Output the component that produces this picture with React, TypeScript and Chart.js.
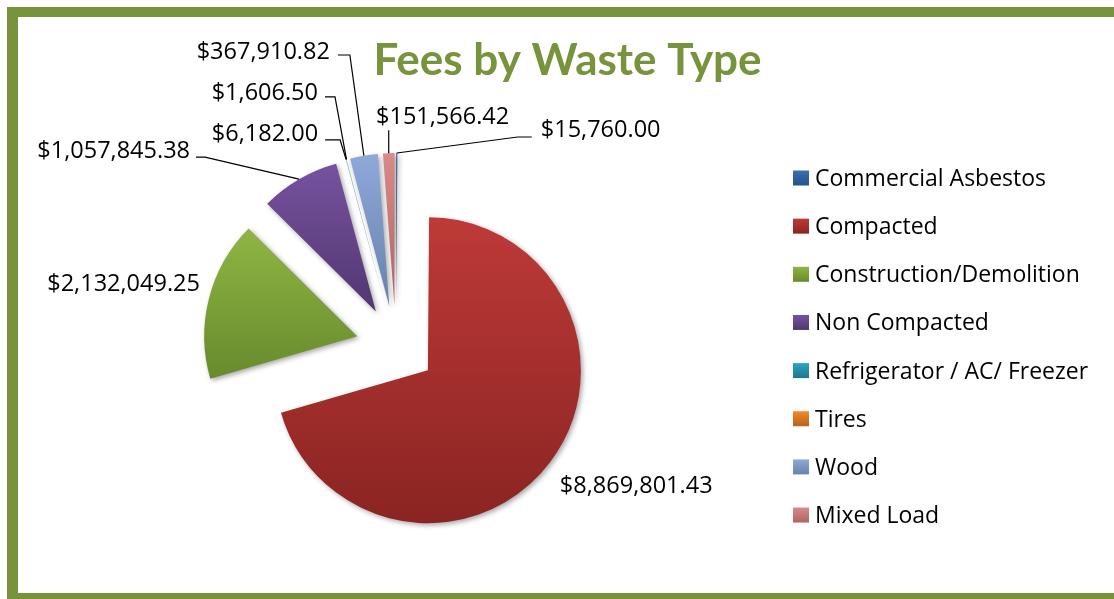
import React, { useEffect, useRef } from 'react';
import { Chart, registerables } from 'chart.js';

Chart.register(...registerables);

// ---------- data ----------
const categories = [
  'Commercial Asbestos',
  'Compacted',
  'Construction/Demolition',
  'Non Compacted',
  'Refrigerator / AC/ Freezer',
  'Tires',
  'Wood',
  'Mixed Load',
];
const fees = [15760.0, 8869801.43, 2132049.25, 1057845.38, 6182.0, 1606.5, 367910.82, 151566.42];
const titleText = 'Fees by Waste Type';

// ---------- styles ----------
const topColors = ['#3A6FB0', '#BE3A37', '#8FB643', '#77529F', '#2EA3C2', '#F08A2C', '#8EA8D8', '#D88A89'];
const bottomColors = ['#25528A', '#8A2422', '#688A2D', '#513770', '#1D7790', '#BC6117', '#6882AD', '#AE6564'];
const FRAME = '#77933C';
const LABEL_FONT = `23.5px "Open Sans", Lato, sans-serif`;
const LEGEND_FONT = `23px "Open Sans", Lato, sans-serif`;
const TITLE_FONT = `bold 44px Lato, "Open Sans", sans-serif`;
const PIE_RADIUS = 153;
const EXPLODE = 40;

// label placement relative to each slice's outer mid point
const labelLayout = [
  { dx: 144, dy: -24, align: 'left', kind: 'elbow', elbow: 23, gap: 9, ly: 8 },
  { dx: 10, dy: 22, align: 'left', kind: 'none', elbow: 0, gap: 0, ly: 0 },
  { dx: -9, dy: -15.5, align: 'right', kind: 'none', elbow: 0, gap: 0, ly: 0 },
  { dx: -109, dy: -29, align: 'right', kind: 'elbow', elbow: 15, gap: 6, ly: 7 },
  { dx: -28, dy: -26.6, align: 'right', kind: 'elbow', elbow: 22, gap: 7, ly: 7 },
  { dx: -28.5, dy: -67.6, align: 'right', kind: 'elbow', elbow: 17, gap: 7, ly: 5 },
  { dx: -34, dy: -104.7, align: 'right', kind: 'elbow', elbow: 20, gap: 8, ly: 4 },
  { dx: -12.7, dy: -37, align: 'left', kind: 'vertical', elbow: 0, gap: 0, ly: 14 },
];

const fmt = (v: number) =>
  '$' + v.toLocaleString('en-US', { minimumFractionDigits: 2, maximumFractionDigits: 2 });

function sliceGeom(arc: any) {
  const p = arc.getProps(['x', 'y', 'startAngle', 'endAngle', 'outerRadius'], true);
  const mid = (p.startAngle + p.endAngle) / 2;
  const ox = Math.cos(mid) * EXPLODE;
  const oy = Math.sin(mid) * EXPLODE;
  return { ...p, mid, ox, oy };
}

const framePlugin = {
  id: 'frame',
  beforeDraw(chart: any) {
    const { ctx, width, height } = chart;
    ctx.save();
    ctx.fillStyle = '#ffffff';
    ctx.fillRect(0, 0, width, height);
    ctx.fillStyle = FRAME;
    ctx.fillRect(7, 7, width - 7, 10);
    ctx.fillRect(7, 7, 11, height - 7);
    ctx.fillRect(7, 593, width - 7, 10);
    ctx.restore();
  },
};

const explodePlugin = {
  id: 'explode',
  beforeDatasetDraw(chart: any, args: any) {
    const ctx = chart.ctx;
    const arcs = args.meta.data;
    arcs.forEach((arc: any, i: number) => {
      const g = sliceGeom(arc);
      let minY = g.y;
      let maxY = g.y;
      const steps = 40;
      for (let s = 0; s <= steps; s++) {
        const a = g.startAngle + ((g.endAngle - g.startAngle) * s) / steps;
        const yy = g.y + Math.sin(a) * g.outerRadius;
        minY = Math.min(minY, yy);
        maxY = Math.max(maxY, yy);
      }
      const grad = ctx.createLinearGradient(0, minY, 0, maxY + 0.01);
      grad.addColorStop(0, topColors[i]);
      grad.addColorStop(1, bottomColors[i]);
      const orig = arc.options.backgroundColor;
      arc.options.backgroundColor = grad;
      ctx.save();
      ctx.translate(g.ox, g.oy);
      ctx.shadowColor = 'rgba(0,0,0,0.35)';
      ctx.shadowBlur = 5;
      ctx.shadowOffsetX = 2;
      ctx.shadowOffsetY = 2;
      arc.draw(ctx, chart.chartArea);
      ctx.restore();
      arc.options.backgroundColor = orig;
    });
    return false;
  },
};

const textPlugin = {
  id: 'texts',
  afterDraw(chart: any) {
    const ctx = chart.ctx;
    ctx.save();

    // title
    ctx.font = TITLE_FONT;
    ctx.fillStyle = FRAME;
    ctx.textAlign = 'center';
    ctx.textBaseline = 'alphabetic';
    ctx.fillText(titleText, 567.5, 75);

    // data labels + leader lines
    const arcs = chart.getDatasetMeta(0).data;
    ctx.font = LABEL_FONT;
    ctx.fillStyle = '#000000';
    ctx.strokeStyle = '#000000';
    ctx.lineWidth = 1.2;
    arcs.forEach((arc: any, i: number) => {
      const g = sliceGeom(arc);
      const ax = g.x + g.ox + Math.cos(g.mid) * g.outerRadius;
      const ay = g.y + g.oy + Math.sin(g.mid) * g.outerRadius;
      const L = labelLayout[i];
      const tx = ax + L.dx;
      const ty = ay + L.dy;
      ctx.textAlign = L.align;
      ctx.fillText(fmt(fees[i]), tx, ty + 8);
      if (L.kind === 'elbow') {
        const sgn = L.align === 'right' ? 1 : -1;
        ctx.beginPath();
        ctx.moveTo(tx + sgn * L.gap, ty + L.ly);
        ctx.lineTo(tx + sgn * L.elbow, ty + L.ly);
        ctx.lineTo(ax, ay);
        ctx.stroke();
      } else if (L.kind === 'vertical') {
        ctx.beginPath();
        ctx.moveTo(ax, ty + L.ly);
        ctx.lineTo(ax, ay);
        ctx.stroke();
      }
    });

    // legend
    ctx.font = LEGEND_FONT;
    ctx.textAlign = 'left';
    categories.forEach((c, i) => {
      const cy = 178 + i * 48.15;
      const grad = ctx.createLinearGradient(0, cy - 7.5, 0, cy + 7.5);
      grad.addColorStop(0, topColors[i]);
      grad.addColorStop(1, bottomColors[i]);
      ctx.fillStyle = grad;
      ctx.fillRect(793, cy - 7.5, 16, 15);
      ctx.fillStyle = '#000000';
      ctx.fillText(c, 815, cy + 8);
    });

    ctx.restore();
  },
};

export default function App() {
  const ref = useRef<HTMLCanvasElement>(null);
  useEffect(() => {
    const canvas = ref.current;
    if (!canvas) return;
    const chart = new Chart(canvas, {
      type: 'pie',
      data: {
        labels: categories,
        datasets: [
          {
            data: fees,
            backgroundColor: topColors,
            borderWidth: 0,
          },
        ],
      },
      options: {
        responsive: false,
        animation: false,
        events: [],
        radius: PIE_RADIUS,
        layout: { padding: { left: 180, right: 502, top: 180, bottom: 87 } },
        plugins: {
          legend: { display: false },
          title: { display: false },
          tooltip: { enabled: false },
        },
      } as any,
      plugins: [framePlugin, explodePlugin, textPlugin],
    });
    return () => chart.destroy();
  }, []);
  return (
    <div style={{ position: 'absolute', left: 0, top: 0, width: 1114, height: 599, background: '#fff' }}>
      <canvas ref={ref} width={1114} height={599} style={{ display: 'block' }} />
    </div>
  );
}
